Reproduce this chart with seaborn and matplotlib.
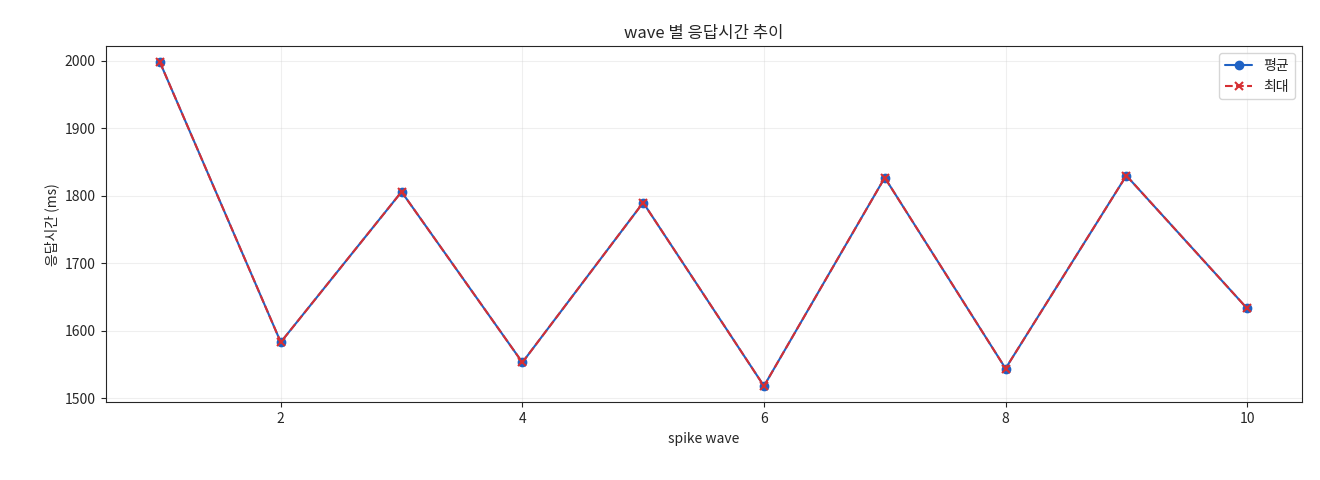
import matplotlib
matplotlib.use("Agg")
import matplotlib.pyplot as plt
import seaborn as sns
import pandas as pd

waves = [1, 2, 3, 4, 5, 6, 7, 8, 9, 10]
avg_ms = [1998, 1583, 1806, 1553, 1790, 1518, 1827, 1544, 1830, 1633]
max_ms = [1998, 1583, 1806, 1553, 1790, 1518, 1827, 1544, 1830, 1633]

sns.set_style("ticks")
plt.rcParams['font.family'] = ['Noto Sans CJK KR', 'DejaVu Sans']
plt.rcParams['axes.unicode_minus'] = False

df = pd.DataFrame({"wave": waves, "avg": avg_ms, "max": max_ms})

fig, ax = plt.subplots(figsize=(13.2, 4.8), dpi=100)
sns.lineplot(data=df, x="wave", y="avg", marker="o", color="#1f62c4", label="평균",
             ax=ax, markersize=6, markeredgecolor="#1f62c4", markeredgewidth=1)
sns.lineplot(data=df, x="wave", y="max", marker="x", color="#d62f33",
             label="최대", ax=ax, markersize=6, markeredgecolor="#d62f33", markeredgewidth=1.5)
ax.lines[1].set_linestyle((0, (3.7, 1.6)))
ax.set_title("wave 별 응답시간 추이")
ax.set_xlabel("spike wave")
ax.set_ylabel("응답시간 (ms)")
ax.grid(True, alpha=0.3)
leg = ax.legend(loc="upper right")
leg.get_lines()[1].set_linestyle((0, (3.7, 1.6)))
fig.subplots_adjust(left=0.08, right=0.986, top=0.904, bottom=0.162)
plt.savefig("out.png")
